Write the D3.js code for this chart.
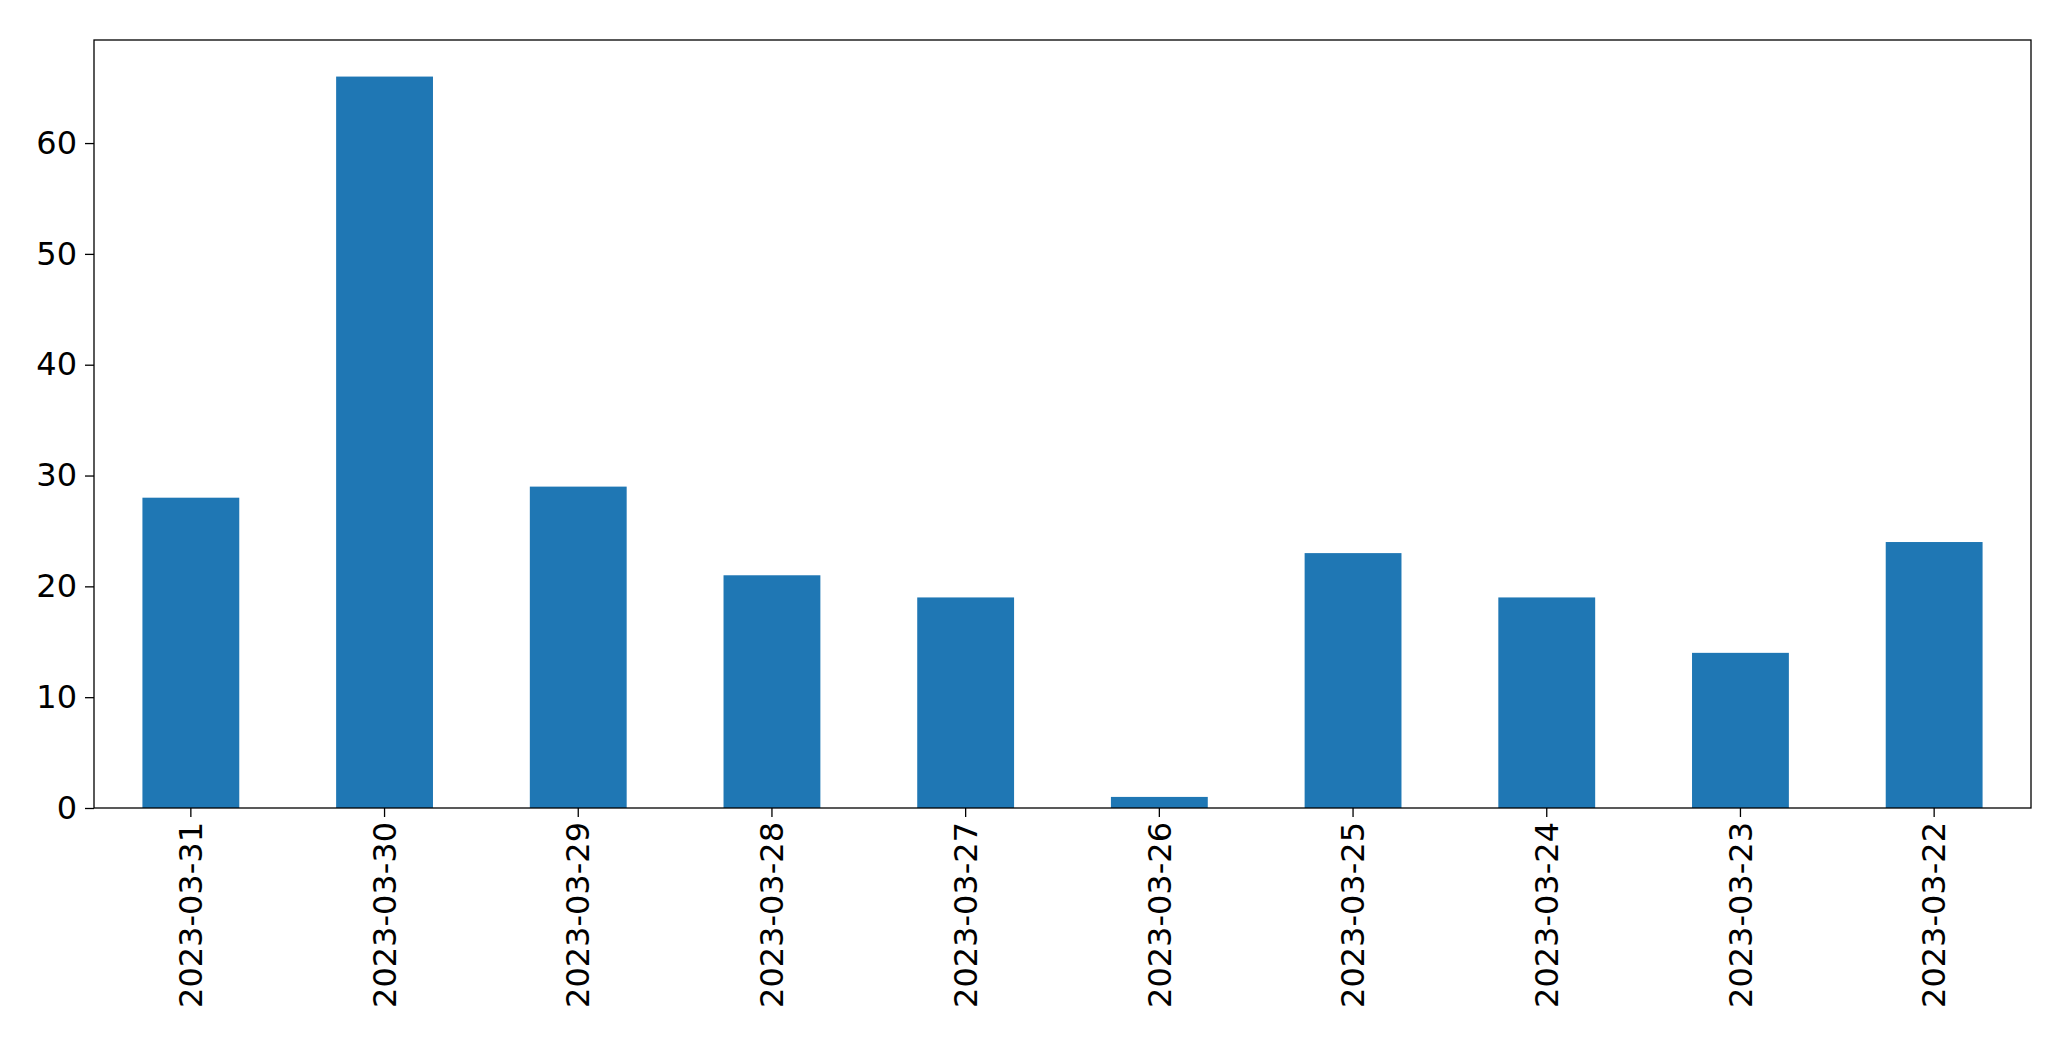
<!DOCTYPE html>
<html><head><meta charset="utf-8">
<script src="https://cdn.jsdelivr.net/npm/d3@7"></script>
<style>body{margin:0;background:#fff}</style>
</head><body>
<svg id="c" width="2071" height="1061"></svg>
<script>
const categories = ["2023-03-31","2023-03-30","2023-03-29","2023-03-28","2023-03-27","2023-03-26","2023-03-25","2023-03-24","2023-03-23","2023-03-22"];
const values = [28,66,29,21,19,1,23,19,14,24];
const yTicks = [0,10,20,30,40,50,60];

const m = {l:94, r:2071-2031, t:40, b:1061-808};
const W = 2071, H = 1061;
const svg = d3.select("#c");
const x = d3.scaleBand().domain(categories).range([m.l, W-m.r]).paddingInner(0.5).paddingOuter(0.25);
const y = d3.scaleLinear().domain([0, 69.3]).range([H-m.b, m.t]);

svg.selectAll("rect.bar").data(values).join("rect").attr("class","bar")
  .attr("x",(d,i)=>x(categories[i])).attr("width",x.bandwidth())
  .attr("y",d=>y(d)).attr("height",d=>y(0)-y(d)).attr("fill","#1f77b4");

const font = "DejaVu Sans, sans-serif";
const ya = svg.append("g").attr("transform",`translate(${m.l},0)`)
  .call(d3.axisLeft(y).tickValues(yTicks).tickSize(9).tickPadding(8));
ya.select(".domain").remove();
ya.selectAll("text").style("font-family",font).style("font-size","32px").attr("fill","#000");
ya.selectAll("line").attr("stroke","#000").attr("stroke-width",1.3);

const xa = svg.append("g").attr("transform",`translate(0,${H-m.b})`)
  .call(d3.axisBottom(x).tickSize(9).tickPadding(8));
xa.select(".domain").remove();
xa.selectAll("line").attr("stroke","#000").attr("stroke-width",1.3);
xa.selectAll("text").style("font-family",font).style("font-size","32px").attr("fill","#000")
  .attr("transform","rotate(-90)").attr("text-anchor","end").attr("dy","0.35em")
  .attr("x",-14).attr("y",0);

svg.append("rect").attr("x",m.l).attr("y",m.t).attr("width",W-m.l-m.r).attr("height",H-m.t-m.b)
  .attr("fill","none").attr("stroke","#000").attr("stroke-width",1.3);
</script>
</body></html>
